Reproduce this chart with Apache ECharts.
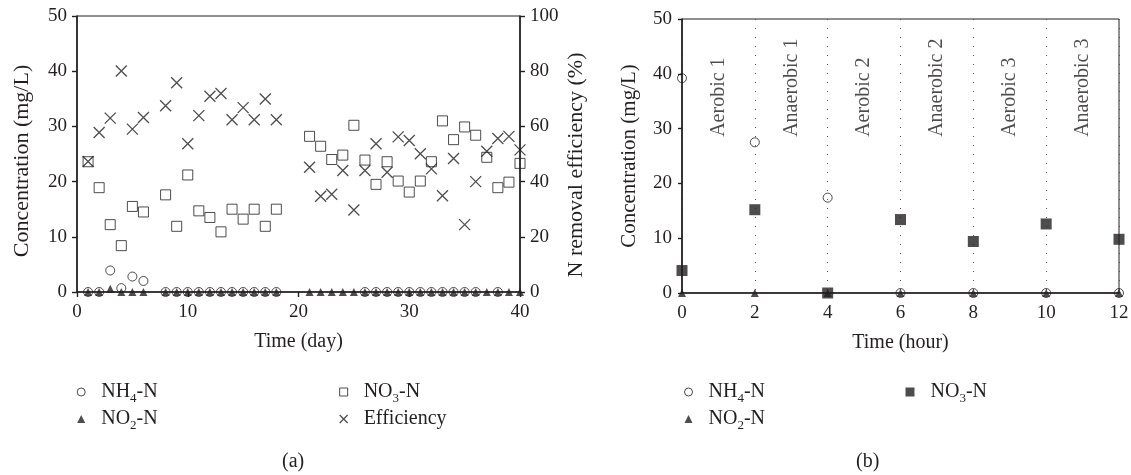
<!DOCTYPE html>
<html><head><meta charset="utf-8">
<script src="https://cdn.jsdelivr.net/npm/echarts@6/dist/echarts.min.js"></script>
<style>html,body{margin:0;padding:0;background:#fff}#c{width:1131px;height:475px}</style>
</head><body><div id="c"></div>
<script>
// ---------- Panel (a): daily data ----------
const daysA = [1,2,3,4,5,6,8,9,10,11,12,13,14,15,16,17,18,21,22,23,24,25,26,27,28,29,30,31,32,33,34,35,36,37,38,39,40];
const nh4A = [0,0,3.9,0.7,2.8,2.0, 0,0,0,0,0,0,0,0,0,0,0, null,null,null,null,null, 0,0,0,0,0,0,0,0,0,0,0, null,0,null,null];
const no2A = [0,0,0.6,0,0,0, 0,0,0,0,0,0,0,0,0,0,0, 0,0,0,0,0, 0,0,0,0,0,0,0,0,0,0,0, 0,0,0,0];
const no3A = [23.6,18.9,12.2,8.4,15.5,14.5, 17.6,11.9,21.2,14.7,13.5,10.9,15.0,13.2,15.0,11.9,15.0, 28.2,26.4,24.0,24.8,30.2,23.9,19.5,23.6,20.1,18.1,20.1,23.6,31.0,27.6,29.9,28.4,24.4,18.9,19.9,23.3];
const effA = [47.3,57.8,63.0,80.1,59.0,63.2, 67.5,75.8,53.7,63.9,70.9,71.9,62.4,66.8,62.4,69.9,62.4, 45.2,34.7,35.4,44.0,29.7,44.0,53.7,43.4,56.2,54.9,50.1,44.6,34.9,48.4,24.4,40.0,51.0,55.6,56.4,51.5];
const ticksA_x = [0,10,20,30,40];

// ---------- Panel (b): hourly cycle ----------
const hoursB = [0,2,4,6,8,10,12];
const nh4B = [39.2,27.5,17.4,0,0,0,0];
const no2B = [0,0,0,0,0,0,0];
const no3B = [4.1,15.2,0,13.4,9.4,12.6,9.8];
const phaseNames = ['Aerobic 1','Anaerobic 1','Aerobic 2','Anaerobic 2','Aerobic 3','Anaerobic 3'];
const phaseHours = [1,3,5,7,9,11];
const phaseLabelY = 28.5;

const FONT = 'Liberation Serif';
const INK = '#231f20';

function pairs(xs, ys){ const out=[]; xs.forEach((x,i)=>{ if(ys[i]!=null) out.push([x, ys[i]]); }); return out; }

const legendNames = {
  'a_nh4':'{g|}{n|NH}{s|4}{n|-N}', 'a_no2':'{g|}{n|NO}{s|2}{n|-N}', 'a_no3':'{g|}{n|NO}{s|3}{n|-N}', 'a_eff':'{g|}{n|Efficiency}',
  'b_nh4':'{g|}{n|NH}{s|4}{n|-N}', 'b_no2':'{g|}{n|NO}{s|2}{n|-N}', 'b_no3':'{g|}{n|NO}{s|3}{n|-N}'
};
const richText = {
  g:{width:11, fontSize:20, lineHeight:26},
  n:{fontFamily:FONT, fontSize:20, color:INK, lineHeight:26},
  s:{fontFamily:FONT, fontSize:13, color:INK, lineHeight:14, verticalAlign:'bottom'}
};
const CROSS = 'path://M0,0L10,10M10,0L0,10';
const hollow = {color:'rgba(0,0,0,0)', borderColor:INK, borderWidth:1};
const filled = {color:INK, borderWidth:0};
const crossStyle = {color:'rgba(0,0,0,0)', borderColor:INK, borderWidth:1.3};

function legend(left, top, items, size){
  return {
    left:left, top:top, orient:'vertical', padding:0, itemGap:4,
    itemWidth:size||8, itemHeight:size||8, symbolKeepAspect:true,
    formatter: n => legendNames[n],
    textStyle:{rich:richText, fontFamily:FONT, fontSize:20, color:INK},
    selectedMode:false,
    data: items
  };
}

const axisLine = {show:true, lineStyle:{color:INK, width:1.6}};
const axisTick = {show:true, inside:false, length:5, lineStyle:{color:INK, width:1.4}};
const labelStyle = {fontFamily:FONT, fontSize:19, color:INK};

const option = {
  animation:false,
  backgroundColor:'#fff',
  title:[
    {text:'(a)', left:282, top:452, padding:0, textStyle:{fontFamily:FONT, fontSize:20, fontWeight:'normal', color:INK}},
    {text:'(b)', left:856, top:452, padding:0, textStyle:{fontFamily:FONT, fontSize:20, fontWeight:'normal', color:INK}}
  ],
  grid:[
    {left:77, top:16, width:443, height:276, show:true, borderColor:INK, borderWidth:1, backgroundColor:'rgba(0,0,0,0)', outerBoundsMode:'none', containLabel:false},
    {left:682, top:19, width:437, height:274, show:true, borderColor:INK, borderWidth:1, backgroundColor:'rgba(0,0,0,0)', outerBoundsMode:'none', containLabel:false}
  ],
  xAxis:[
    {gridIndex:0, type:'value', min:0, max:40, interval:10,
     axisLine:axisLine, axisTick:axisTick, splitLine:{show:false},
     axisLabel:Object.assign({margin:11, formatter: v => ticksA_x.includes(v) ? String(v) : ''}, labelStyle),
     name:'Time (day)', nameLocation:'middle', nameGap:40,
     nameTextStyle:{fontFamily:FONT, fontSize:20, color:INK}},
    {gridIndex:1, type:'value', min:0, max:12, interval:2,
     axisLine:axisLine, axisTick:{show:false},
     splitLine:{show:true, lineStyle:{color:'#555', width:1, type:[1,8]}},
     axisLabel:Object.assign({margin:11}, labelStyle),
     name:'Time (hour)', nameLocation:'middle', nameGap:40,
     nameTextStyle:{fontFamily:FONT, fontSize:20, color:INK}}
  ],
  yAxis:[
    {gridIndex:0, type:'value', min:0, max:50, interval:10, position:'left',
     axisLine:axisLine, axisTick:axisTick, splitLine:{show:false},
     axisLabel:Object.assign({margin:10}, labelStyle),
     name:'Concentration (mg/L)', nameLocation:'middle', nameGap:44, nameRotate:90,
     nameTextStyle:{fontFamily:FONT, fontSize:22, color:INK, padding:[0,14,0,0]}},
    {gridIndex:0, type:'value', min:0, max:100, interval:20, position:'right',
     axisLine:axisLine, axisTick:axisTick, splitLine:{show:false},
     axisLabel:Object.assign({margin:10}, labelStyle),
     name:'N removal efficiency (%)', nameLocation:'middle', nameGap:45, nameRotate:90,
     nameTextStyle:{fontFamily:FONT, fontSize:22, color:INK, padding:[0,22,0,0]}},
    {gridIndex:1, type:'value', min:0, max:50, interval:10, position:'left',
     axisLine:axisLine, axisTick:Object.assign({}, axisTick, {length:4}), splitLine:{show:false},
     axisLabel:Object.assign({margin:10}, labelStyle),
     name:'Concentration (mg/L)', nameLocation:'middle', nameGap:42, nameRotate:90,
     nameTextStyle:{fontFamily:FONT, fontSize:21, color:INK}}
  ],
  legend:[
    legend(76.7, 382, [{name:'a_nh4', icon:'circle', itemStyle:hollow}, {name:'a_no2', icon:'triangle', itemStyle:filled}]),
    legend(339, 382, [{name:'a_no3', icon:'rect', itemStyle:hollow}, {name:'a_eff', icon:CROSS, itemStyle:crossStyle}]),
    legend(684, 382, [{name:'b_nh4', icon:'circle', itemStyle:hollow}, {name:'b_no2', icon:'triangle', itemStyle:filled}]),
    legend(905.5, 382, [{name:'b_no3', icon:'rect', itemStyle:filled}], 9)
  ],
  series:[
    {name:'a_nh4', type:'scatter', xAxisIndex:0, yAxisIndex:0, symbol:'circle', symbolSize:9, itemStyle:hollow, data:pairs(daysA, nh4A), z:3},
    {name:'a_no2', type:'scatter', xAxisIndex:0, yAxisIndex:0, symbol:'triangle', symbolSize:8, itemStyle:filled, data:pairs(daysA, no2A), z:4},
    {name:'a_no3', type:'scatter', xAxisIndex:0, yAxisIndex:0, symbol:'rect', symbolSize:10, itemStyle:hollow, data:pairs(daysA, no3A), z:3},
    {name:'a_eff', type:'scatter', xAxisIndex:0, yAxisIndex:1, symbol:CROSS, symbolSize:11, itemStyle:crossStyle, data:pairs(daysA, effA), z:3},
    {name:'b_nh4', type:'scatter', xAxisIndex:1, yAxisIndex:2, symbol:'circle', symbolSize:9, itemStyle:hollow, data:pairs(hoursB, nh4B), z:3},
    {name:'b_no2', type:'scatter', xAxisIndex:1, yAxisIndex:2, symbol:'triangle', symbolSize:8, itemStyle:filled, data:pairs(hoursB, no2B), z:4},
    {name:'b_no3', type:'scatter', xAxisIndex:1, yAxisIndex:2, symbol:'rect', symbolSize:11, itemStyle:filled, data:pairs(hoursB, no3B), z:5},
    {name:'phases', type:'scatter', xAxisIndex:1, yAxisIndex:2, symbolSize:0, silent:true, z:6,
     data: phaseHours.map((h,i)=>({value:[h, phaseLabelY], label:{formatter:phaseNames[i]}})),
     label:{show:true, position:[0,0], rotate:90, align:'left', verticalAlign:'middle',
            fontFamily:FONT, fontSize:20, color:INK}}
  ]
};
const chart = echarts.init(document.getElementById('c'), null, {renderer:'canvas'});
chart.setOption(option);
</script></body></html>
